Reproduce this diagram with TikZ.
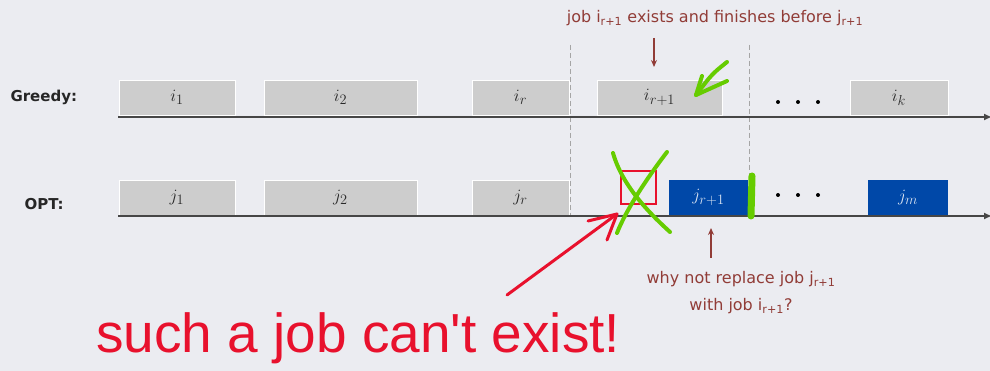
\documentclass[tikz,border=0pt]{standalone}
\usepackage{fontspec}
\setmainfont{DejaVu Sans}
\newfontfamily\handfont{Liberation Sans}
\usetikzlibrary{arrows.meta}
\definecolor{bgc}{RGB}{235,236,241}
\definecolor{boxgray}{RGB}{205,205,205}
\definecolor{optblue}{RGB}{0,72,168}
\definecolor{brownc}{RGB}{145,60,55}
\definecolor{penred}{RGB}{232,17,45}
\definecolor{pengreen}{RGB}{102,204,0}
\definecolor{axisc}{RGB}{70,70,70}
\definecolor{dashc}{RGB}{165,165,165}
\definecolor{labc}{RGB}{40,40,40}
\tikzset{
  jobbox/.style={rectangle, fill=boxgray, draw=white, line width=0.4pt, inner sep=0pt, minimum height=35pt, text=labc, font=\fontsize{19}{22}\selectfont},
  optbox/.style={rectangle, fill=optblue, inner sep=0pt, minimum height=35pt, text=white!85!optblue, font=\fontsize{19}{22}\selectfont},
  timeline/.style={draw=axisc, line width=1.8pt, -{Latex[length=8pt,width=7pt]}},
  sepline/.style={draw=dashc, dash pattern=on 5pt off 3pt, line width=0.9pt},
  dotc/.style={circle, fill=black, inner sep=0pt, minimum size=4pt},
  rowlabel/.style={font=\bfseries\fontsize{15}{18}\selectfont, text=black!85},
  brownlabel/.style={text=brownc, font=\fontsize{16}{20}\selectfont, align=center},
  brownarrow/.style={draw=brownc, line width=1.3pt, -{Stealth[length=7pt,width=6pt]}},
  greenpen/.style={draw=pengreen, line width=4pt, line cap=round, line join=round},
  redpen/.style={draw=penred, line width=3pt, line cap=round, line join=round}
}
\begin{document}
\begin{tikzpicture}[x=1pt, y=-1pt]
\useasboundingbox (0,0) rectangle (990,371);
\fill[bgc] (0,0) rectangle (990,371);

% row labels
\node[rowlabel, anchor=west] (greedy) at (7,97) {Greedy:};
\node[rowlabel, anchor=west] (opt) at (21,204) {OPT:};

% dashed separators
\coordinate (d1t) at (570,45); \coordinate (d1b) at (570,216);
\coordinate (d2t) at (749,45); \coordinate (d2b) at (749,216);
\draw[sepline] (d1t) -- (d1b);
\draw[sepline] (d2t) -- (d2b);

% greedy jobs
\node[jobbox, minimum width=116pt] (i1) at (177,97.5) {\raisebox{-2pt}{$i_1$}};
\node[jobbox, minimum width=153pt] (i2) at (340.5,97.5) {\raisebox{-2pt}{$i_2$}};
\node[jobbox, minimum width=97pt] (ir) at (520.5,97.5) {\raisebox{-2pt}{$i_r$}};
\node[jobbox, minimum width=125pt] (ir1) at (659.5,97.5) {\raisebox{-2pt}{$i_{r+1}$}};
\node[jobbox, minimum width=98pt] (ik) at (899,97.5) {\raisebox{-2pt}{$i_k$}};
\node[dotc] (gd1) at (778,102) {};
\node[dotc] (gd2) at (798,102) {};
\node[dotc] (gd3) at (818,102) {};

% opt jobs
\node[jobbox, minimum width=116pt] (j1) at (177,197.5) {\raisebox{-2pt}{$j_1$}};
\node[jobbox, minimum width=153pt] (j2) at (340.5,197.5) {\raisebox{-2pt}{$j_2$}};
\node[jobbox, minimum width=97pt] (jr) at (520.5,197.5) {\raisebox{-2pt}{$j_r$}};
\node[optbox, minimum width=79pt] (jr1) at (708.5,197.5) {\raisebox{-2pt}{$j_{r+1}$}};
\node[optbox, minimum width=80pt] (jm) at (908,197.5) {\raisebox{-2pt}{$j_m$}};
\node[dotc] (od1) at (778,195) {};
\node[dotc] (od2) at (798,195) {};
\node[dotc] (od3) at (818,195) {};

% timelines
\coordinate (ga) at (118,117); \coordinate (gb) at (992,117);
\coordinate (oa) at (118,216); \coordinate (ob) at (992,216);
\draw[timeline] (ga) -- (gb);
\draw[timeline] (oa) -- (ob);

% brown annotations
\node[brownlabel] (top) at (715,18) {job i\textsubscript{r+1} exists and finishes before j\textsubscript{r+1}};
\coordinate (topa) at (654,38); \coordinate (topb) at (654,67);
\draw[brownarrow] (topa) -- (topb);
\node[brownlabel, anchor=north] (bot) at (741,268) {why not replace job j\textsubscript{r+1}\\[7pt] with job i\textsubscript{r+1}?};
\coordinate (bota) at (711,258); \coordinate (botb) at (711,228);
\draw[brownarrow] (bota) -- (botb);

% red square and X
\node[draw=penred, line width=2.5pt, minimum width=35pt, minimum height=33pt, inner sep=0pt] (sq) at (638.5,187.5) {};
\coordinate (xa1) at (613,153); \coordinate (xa2) at (670,232);
\coordinate (xb1) at (667,152); \coordinate (xb2) at (617,233);
\draw[greenpen] (xa1) .. controls (622,185) and (648,212) .. (xa2);
\draw[greenpen] (xb1) .. controls (647,178) and (626,210) .. (xb2);

% green bar
\coordinate (gbt) at (752,176); \coordinate (gbb) at (751,216);
\draw[greenpen, line width=7pt] (gbt) -- (gbb);

% green arrow
\coordinate (ga1) at (727,62); \coordinate (gtip) at (696,95);
\coordinate (gw1) at (727,81); \coordinate (gw2) at (702,76);
\draw[greenpen] (ga1) .. controls (712,74) .. (gtip);
\draw[greenpen] (gw1) -- (gtip) -- (gw2);

% handwriting
\node[anchor=base west, inner sep=0pt, text=penred, font=\handfont\fontsize{55}{60}\selectfont] (hand) at (96,352) {such a job can't exist!};

% red arrow
\coordinate (ra) at (507,295); \coordinate (rtip) at (617,214);
\coordinate (rw1) at (588,221); \coordinate (rw2) at (607,240);
\draw[redpen] (ra) -- (rtip);
\draw[redpen] (rw1) -- (rtip) -- (rw2);
\end{tikzpicture}
\end{document}
